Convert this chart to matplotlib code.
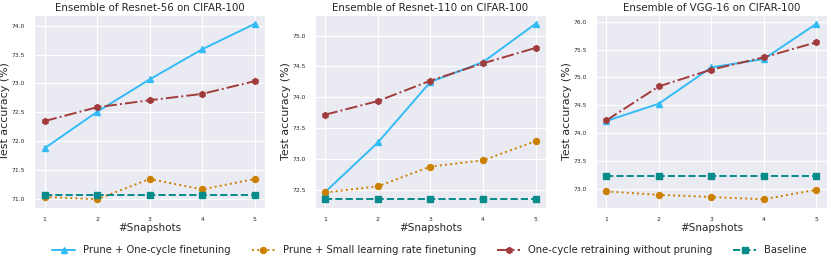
import matplotlib
matplotlib.use("Agg")
import matplotlib.pyplot as plt
import seaborn as sns

sns.set_style("darkgrid")
plt.rcParams['font.family'] = ['DejaVu Sans']

snapshots = [1, 2, 3, 4, 5]
titles = ["Ensemble of Resnet-56 on CIFAR-100",
          "Ensemble of Resnet-110 on CIFAR-100",
          "Ensemble of VGG-16 on CIFAR-100"]

# Prune + One-cycle finetuning
prune_onecycle = [[71.88, 72.51, 73.07, 73.59, 74.03],
                  [72.47, 73.27, 74.25, 74.57, 75.19],
                  [74.22, 74.53, 75.18, 75.33, 75.96]]
# Prune + Small learning rate finetuning
prune_small_lr = [[71.04, 71.00, 71.35, 71.17, 71.35],
                  [72.46, 72.56, 72.88, 72.98, 73.29],
                  [72.96, 72.90, 72.86, 72.82, 72.99]]
# One-cycle retraining without pruning
retrain = [[72.35, 72.59, 72.71, 72.82, 73.04],
           [73.72, 73.94, 74.27, 74.55, 74.80],
           [74.23, 74.84, 75.14, 75.36, 75.63]]
# Baseline
baseline = [71.07, 72.35, 73.24]

labels = ["Prune + One-cycle finetuning",
          "Prune + Small learning rate finetuning",
          "One-cycle retraining without pruning",
          "Baseline"]

fig, axes = plt.subplots(1, 3, figsize=(8.31, 2.64), dpi=100)
fig.subplots_adjust(left=0.041, right=0.995, bottom=0.212, top=0.943, wspace=0.215)

for i, ax in enumerate(axes):
    ax.plot(snapshots, prune_onecycle[i], '-', marker='^', color='#33BBF5',
            lw=1.4, ms=4, label=labels[0])
    ax.plot(snapshots, prune_small_lr[i], ':', marker='o', color='#CC8000',
            lw=1.4, ms=4.3, label=labels[1])
    ax.plot(snapshots, retrain[i], '-.', marker='h', color='#A23B3B',
            lw=1.4, ms=4.3, label=labels[2])
    ax.plot(snapshots, [baseline[i]] * len(snapshots), '--', marker='s',
            color='#078B8B', lw=1.4, ms=4.6, label=labels[3])
    ax.set_title(titles[i], fontsize=7.4, pad=3)
    ax.set_xlabel("#Snapshots", fontsize=7.5, labelpad=1)
    ax.set_ylabel("Test accuracy (%)", fontsize=7.9, labelpad=0.8)
    ax.set_xticks(snapshots)
    ax.tick_params(labelsize=4.3, pad=3)

handles, leg_labels = axes[0].get_legend_handles_labels()
fig.legend(handles, leg_labels, loc='lower center', bbox_to_anchor=(0.517, 0.0),
           ncol=4, frameon=False, fontsize=7.2, columnspacing=2.1, handlelength=2.3)

fig.savefig("out.png", dpi=100)
